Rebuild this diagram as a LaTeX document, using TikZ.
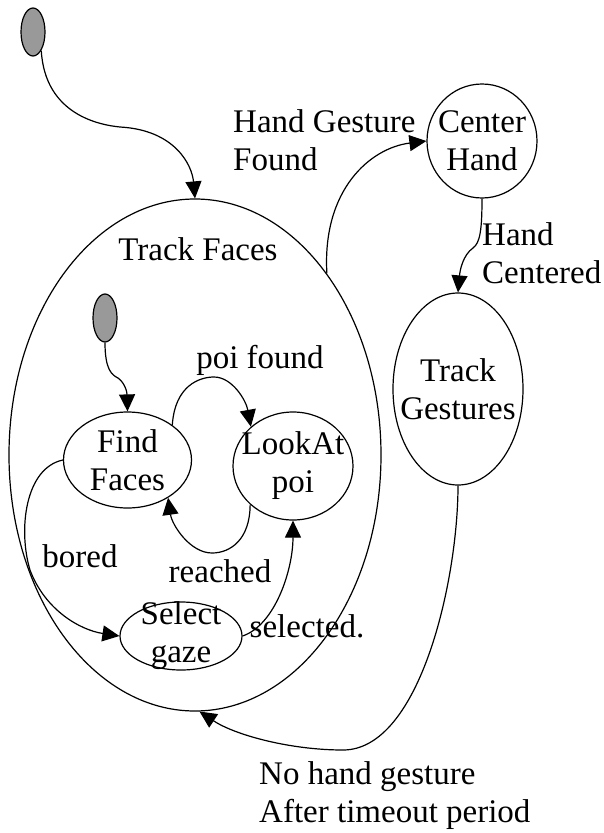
\documentclass[tikz,border=0pt]{standalone}
\usepackage{fontspec}
\setmainfont{Liberation Serif}
\usetikzlibrary{shapes.geometric,arrows.meta}
\definecolor{initgray}{RGB}{153,153,153}
\tikzset{
  state/.style={draw, line width=1.2pt, ellipse, inner sep=0pt},
  initstate/.style={state, fill=initgray, minimum width=24pt, minimum height=48pt},
  statetext/.style={align=center, inner sep=0pt},
  edge/.style={draw, line width=1.2pt, -{Triangle[length=17pt,width=16pt]}},
  lbl/.style={inner sep=0pt},
  mlbl/.style={inner sep=0pt, align=left, anchor=west}
}
\begin{document}
\begin{tikzpicture}[x=1pt, y=-1pt, font=\fontsize{33}{38}\selectfont]
\path[use as bounding box] (0,0) rectangle (603,833);

% outer states
\node[initstate] (init1) at (33,32) {};
\node[state, minimum width=372pt, minimum height=512pt] (tf) at (195,455) {};
\node[lbl, anchor=base] (tftext) at (198,260) {Track Faces};
\node[state, minimum width=110pt, minimum height=114pt,
      label={[statetext]center:Center\\Hand}] (ch) at (482,141) {};
\node[state, minimum width=130pt, minimum height=192pt,
      label={[statetext]center:Track\\Gestures}] (tg) at (458,389) {};

% states nested in Track Faces
\node[initstate] (init2) at (105,318) {};
\node[state, minimum width=128pt, minimum height=96pt,
      label={[statetext]center:Find\\Faces}] (ff) at (127.5,460) {};
\node[state, minimum width=120pt, minimum height=108pt,
      label={[statetext]center:LookAt\\poi}] (la) at (293,466) {};
\node[state, minimum width=122pt, minimum height=68pt,
      label={[statetext]center:Select\\gaze}] (sg) at (181,636) {};

% outer transitions
\draw[edge] (init1.-66) .. controls (45,115) and (100,125) .. (120,127)
            .. controls (175,130) and (192,165) .. (tf.north);
\draw[edge] (tf.54.7) .. controls (322,190) and (370,148) .. (ch.west);
\draw[edge] (ch.south) .. controls (482,230) and (480,243) .. (473,248)
            .. controls (463,255) and (460,270) .. (tg.north);
\draw[edge] (tg.south) .. controls (458,580) and (420,750) .. (343,750)
            .. controls (290,750) and (235,735) .. (tf.-89.5);

% nested transitions
\draw[edge] (init2.south) .. controls (105,370) and (112,375) .. (118,378)
            .. controls (125,383) and (127,392) .. (ff.north);
\draw[edge] (ff.38) .. controls (175,385) and (200,377) .. (214,377)
            .. controls (232,377) and (246,400) .. (la.137);
\draw[edge] (la.222) .. controls (250,540) and (230,553) .. (212,553)
            .. controls (190,553) and (172,525) .. (ff.-43);
\draw[edge] (ff.west) .. controls (25,468) and (18,530) .. (30,570)
            .. controls (45,610) and (80,630) .. (sg.west);
\draw[edge] (sg.east) .. controls (275,625) and (293,570) .. (la.south);

% transition labels
\node[mlbl] (lhgf) at (233,140) {Hand Gesture\\Found};
\node[mlbl] (lhc) at (482,253) {Hand\\Centered};
\node[mlbl] (lnh) at (259,796) {No hand gesture\\After timeout period};
\node[lbl, anchor=base] (lpf) at (260,368) {poi found};
\node[lbl, anchor=base] (lre) at (220,582) {reached};
\node[lbl, anchor=base] (lbo) at (80,567) {bored};
\node[lbl, anchor=base] (lse) at (307,637) {selected.};
\end{tikzpicture}
\end{document}
